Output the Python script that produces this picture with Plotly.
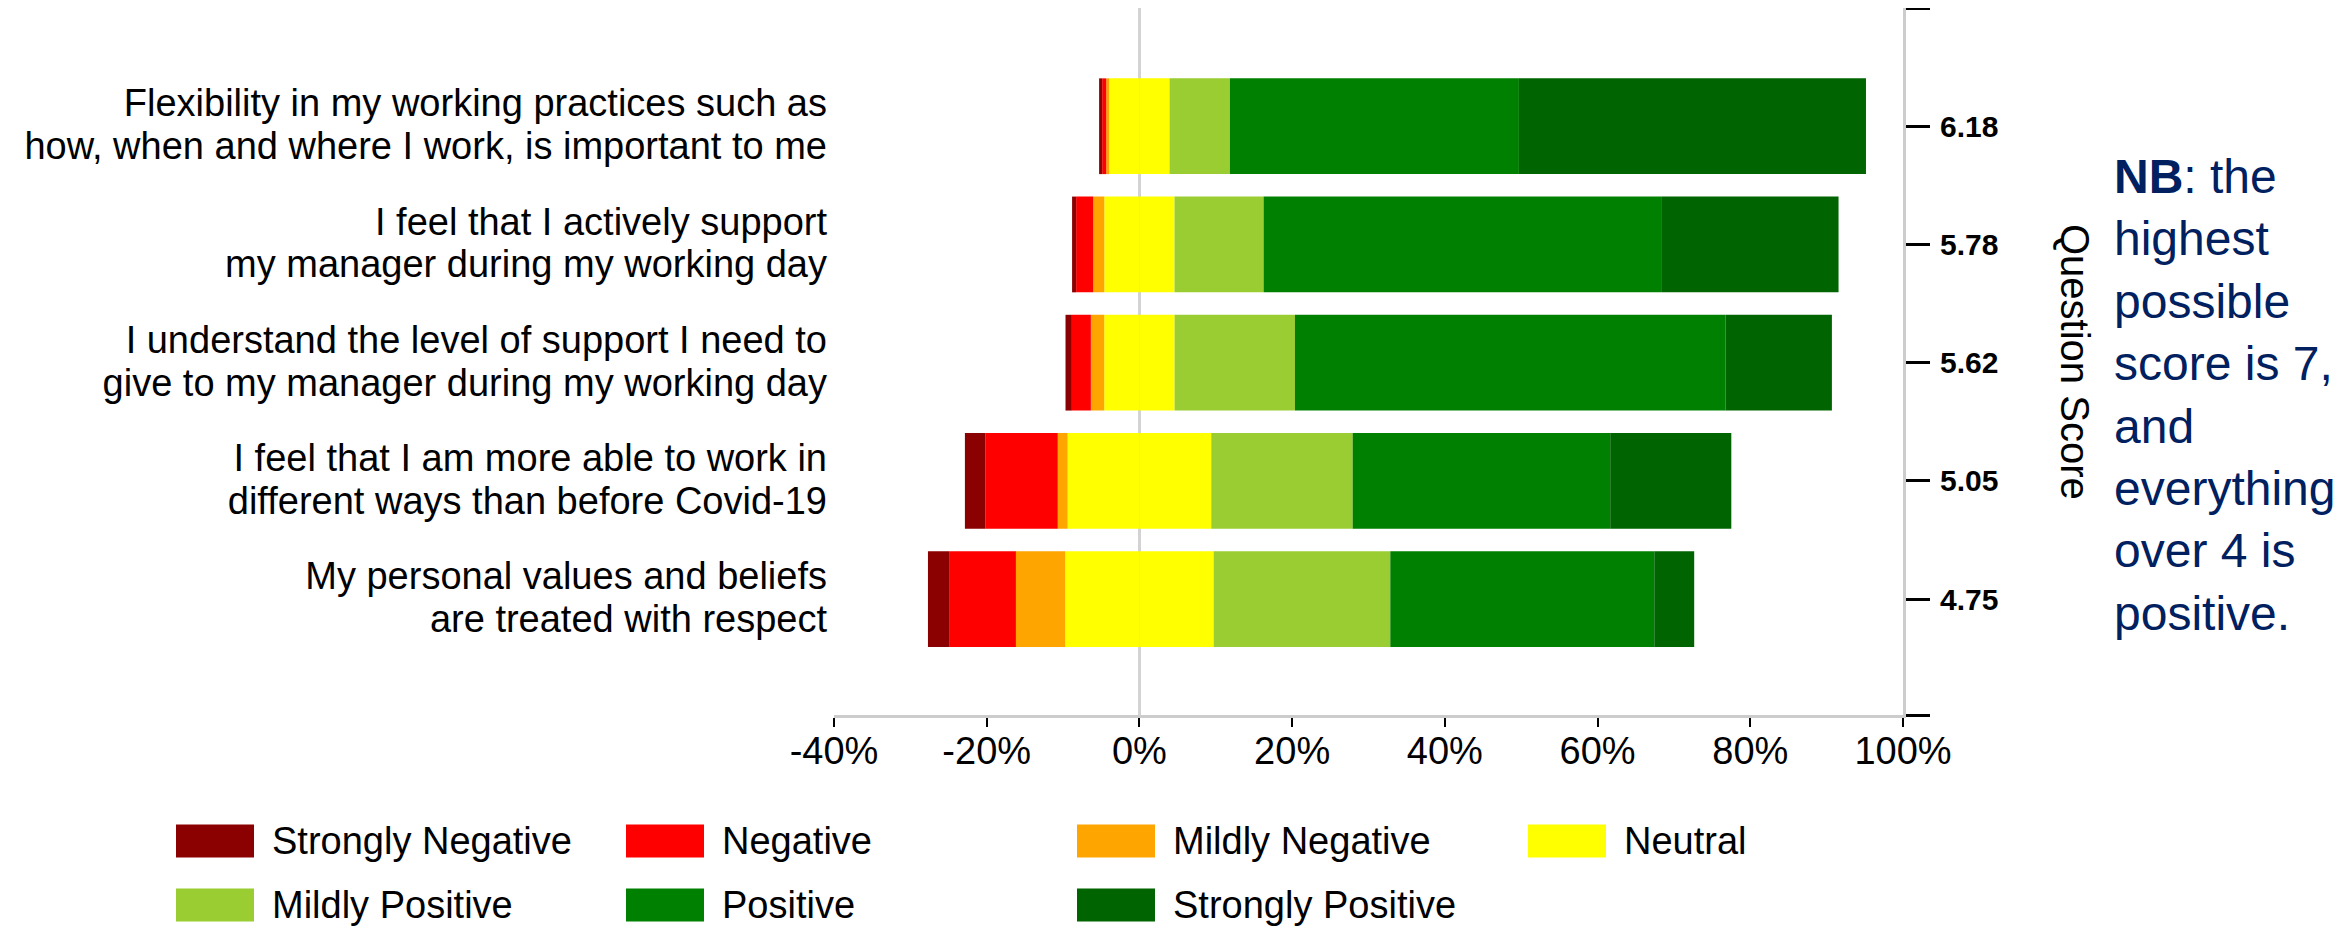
import plotly.graph_objects as go

# ---------------- data ----------------
questions = [
    ["Flexibility in my working practices such as", "how, when and where I work, is important to me"],
    ["I feel that I actively support", "my manager during my working day"],
    ["I understand the level of support I need to", "give to my manager during my working day"],
    ["I feel that I am more able to work in", "different ways than before Covid-19"],
    ["My personal values and beliefs", "are treated with respect"],
]
scores = ["6.18", "5.78", "5.62", "5.05", "4.75"]

strongly_negative = [0.40, 0.53, 0.83, 2.67, 2.77]
negative = [0.53, 2.24, 2.49, 9.49, 8.75]
mildly_negative = [0.40, 1.45, 1.75, 1.29, 6.45]
neutral = [7.90, 9.20, 9.22, 18.81, 19.45]
mildly_positive = [7.90, 11.66, 15.76, 18.52, 23.13]
positive = [37.85, 52.17, 56.40, 33.73, 34.57]
strongly_positive = [45.45, 23.13, 13.92, 15.86, 5.23]

x_ticks = [-40, -20, 0, 20, 40, 60, 80, 100]
x_tick_labels = ["-40%", "-20%", "0%", "20%", "40%", "60%", "80%", "100%"]

legend_names = ["Strongly Negative", "Negative", "Mildly Negative", "Neutral",
                "Mildly Positive", "Positive", "Strongly Positive"]
colors = {
    "Strongly Negative": "#8B0000",
    "Negative": "#FF0000",
    "Mildly Negative": "#FFA500",
    "Neutral": "#FFFF00",
    "Mildly Positive": "#9ACD32",
    "Positive": "#008000",
    "Strongly Positive": "#006400",
}

FONT = "Arial, Liberation Sans, sans-serif"

# ---------------- layout geometry (page pixels) ----------------
OFF = 8                      # default body margin of the html page
W, H = 2344 - 2 * OFF, 938 - 2 * OFF
PL, PR, PT, PB = 834, 1903, 8, 715   # plot area edges in page px


def px_x(p):
    return (p - PL) / (PR - PL)


def px_y(p):
    return (PB - p) / (PB - PT)


# question labels: glyphs at 38px, line pitch of a 33px font (tighter spacing)
question_labels = [
    "<br>".join('<span style="font-size:38px">' + ln + "</span>" for ln in q)
    for q in questions
]

fig = go.Figure()

ypos = list(range(len(questions)))
half_neu = [v / 2 for v in neutral]

neg_series = [("Neutral", half_neu), ("Mildly Negative", mildly_negative),
              ("Negative", negative), ("Strongly Negative", strongly_negative)]
pos_series = [("Neutral", half_neu), ("Mildly Positive", mildly_positive),
              ("Positive", positive), ("Strongly Positive", strongly_positive)]

for (nn, nv), (pn, pv) in zip(neg_series, pos_series):
    fig.add_trace(go.Bar(
        y=ypos, x=[-v for v in nv], orientation="h", name=nn,
        marker=dict(color=colors[nn], line=dict(width=0)),
        showlegend=False, hovertemplate=nn + ": %{customdata:.1f}%<extra></extra>",
        customdata=nv,
    ))
    fig.add_trace(go.Bar(
        y=ypos, x=pv, orientation="h", name=pn,
        marker=dict(color=colors[pn], line=dict(width=0)),
        showlegend=False, hovertemplate=pn + ": %{customdata:.1f}%<extra></extra>",
        customdata=pv,
    ))

# invisible trace to carry the right-hand score axis
fig.add_trace(go.Scatter(
    x=[0] * len(ypos), y=ypos, yaxis="y2", mode="markers",
    marker=dict(opacity=0), showlegend=False, hoverinfo="skip",
))

yrange = [4.98, -1.0]

fig.update_layout(
    width=W, height=H,
    margin=dict(l=PL - OFF, r=W - (PR - OFF), t=PT - OFF, b=H - (PB - OFF),
                autoexpand=False),
    paper_bgcolor="white", plot_bgcolor="white",
    barmode="relative", bargap=0.19,
    font=dict(family=FONT, color="#000000"),
    xaxis=dict(
        range=[-40, 100], tickvals=x_ticks, ticktext=x_tick_labels,
        showgrid=False, zeroline=True, zerolinecolor="#d3d3d3", zerolinewidth=3,
        showline=True, linecolor="#cccccc", linewidth=3,
        ticks="outside", ticklen=9, tickwidth=2, tickcolor="#000000",
        tickfont=dict(size=38, family=FONT, color="#000000"),
        ticklabelstandoff=-9,
        fixedrange=True,
    ),
    yaxis=dict(
        range=yrange, tickvals=ypos, ticktext=question_labels,
        showgrid=False, zeroline=False, showline=False, ticks="",
        tickfont=dict(size=33, family=FONT, color="#000000"),
        ticklabelstandoff=6,
    ),
    yaxis2=dict(
        overlaying="y", side="right", range=yrange,
        tickvals=[-1.0] + ypos + [4.98], ticktext=[""] + scores + [""],
        showgrid=False, zeroline=False,
        showline=True, linecolor="#cccccc", linewidth=3,
        ticks="outside", ticklen=24, tickwidth=3, tickcolor="#000000",
        tickfont=dict(size=30, family=FONT, color="#000000", weight="bold"),
        ticklabelstandoff=4,
    ),
)

# right-hand axis title (reads top to bottom)
fig.add_annotation(
    x=px_x(2075), y=px_y(362), xref="paper", yref="paper",
    text="Question Score", textangle=90, showarrow=False,
    font=dict(size=40, family=FONT, color="#000000"),
    xanchor="center", yanchor="middle",
)

# NB note
fig.add_annotation(
    x=px_x(2112), y=px_y(395), xref="paper", yref="paper",
    text="<b>NB</b>: the<br>highest<br>possible<br>score is 7,<br>and<br>everything<br>over 4 is<br>positive.",
    showarrow=False, align="left", xanchor="left", yanchor="middle",
    font=dict(size=48, family=FONT, color="#002060"),
)

# legend (two rows, four columns)
col_left = [176, 626, 1077, 1528]
row_center = [841, 905]
sw_w, sw_h = 78, 33
for i, name in enumerate(legend_names):
    r, c = divmod(i, 4)
    x0 = col_left[c]
    yc = row_center[r]
    fig.add_shape(
        type="rect", xref="paper", yref="paper",
        x0=px_x(x0), x1=px_x(x0 + sw_w),
        y0=px_y(yc + sw_h / 2), y1=px_y(yc - sw_h / 2),
        fillcolor=colors[name], line=dict(width=0),
    )
    fig.add_annotation(
        x=px_x(x0 + sw_w + 16), y=px_y(yc), xref="paper", yref="paper",
        text=name, showarrow=False, xanchor="left", yanchor="middle",
        font=dict(size=38, family=FONT, color="#000000"),
    )

fig.write_html("out.html")
